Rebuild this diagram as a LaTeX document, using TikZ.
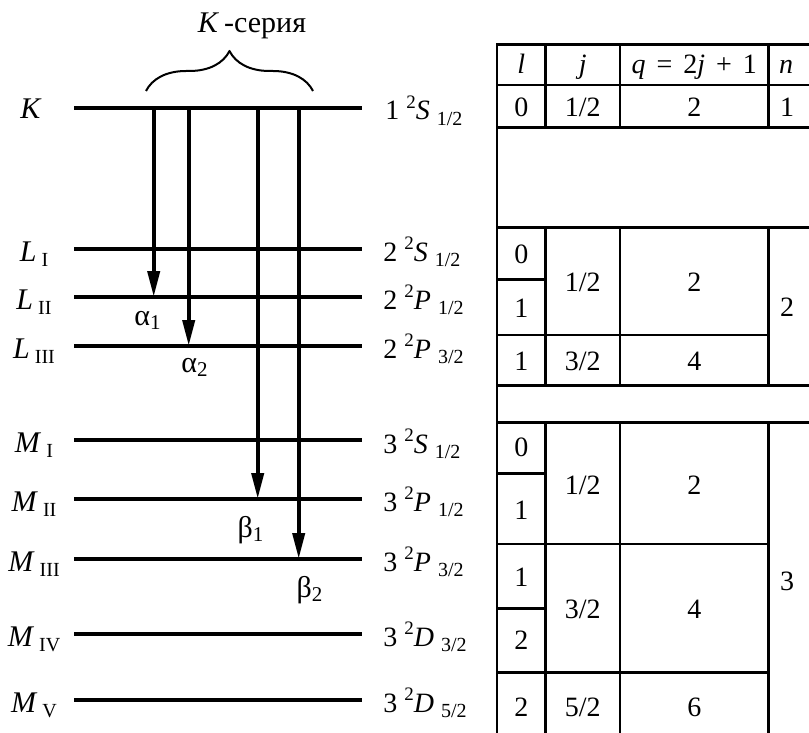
\documentclass[tikz,border=0pt]{standalone}
\usepackage{fontspec}
\setmainfont{Liberation Serif}
\usetikzlibrary{arrows.meta,decorations.pathreplacing}

% level name with roman subscript, term symbol n ^2X_j
\newcommand{\lvl}[2]{\textit{#1}\,\raisebox{-0.38ex}{\fontsize{10}{10}\selectfont #2}}
\newcommand{\trm}[3]{#1 \raisebox{0.9ex}{\fontsize{9.5}{10}\selectfont 2}\textit{#2} \raisebox{-0.45ex}{\fontsize{10}{10}\selectfont #3}}
\newcommand{\gap}{\hspace{5.5pt}}

\begin{document}
\begin{tikzpicture}[x=0.5pt, y=-0.5pt, line join=round,
	level/.style={line width=1.6pt},
	trans/.style={line width=2pt, -{Triangle[length=13pt,width=6pt]}},
	grid/.style={line width=1.3pt, line cap=rect},
	lname/.style={anchor=base, inner sep=0pt, font=\fontsize{15}{18}\selectfont},
	tname/.style={anchor=base west, inner sep=0pt, font=\fontsize{14}{17}\selectfont},
	greek/.style={anchor=base, inner sep=0pt, font=\fontsize{15}{18}\selectfont},
	cell/.style={inner sep=0pt, text height=9.5pt, text depth=0pt, font=\fontsize{14}{17}\selectfont}]
	\useasboundingbox (0,0) rectangle (809,733);

	% energy levels
	\draw[level] (74,108) coordinate (K) -- (362,108);
	\draw[level] (74,249) coordinate (LI) -- (362,249);
	\draw[level] (74,297) coordinate (LII) -- (362,297);
	\draw[level] (74,346) coordinate (LIII) -- (362,346);
	\draw[level] (74,440) coordinate (MI) -- (362,440);
	\draw[level] (74,499) coordinate (MII) -- (362,499);
	\draw[level] (74,559) coordinate (MIII) -- (362,559);
	\draw[level] (74,634) coordinate (MIV) -- (362,634);
	\draw[level] (74,700) coordinate (MV) -- (362,700);

	\node[lname] (Klab) at (31,119) {\textit{K}};
	\node[lname] (LIlab) at (34,261) {\lvl{L}{I}};
	\node[lname] (LIIlab) at (34,309) {\lvl{L}{II}};
	\node[lname] (LIIIlab) at (34,358) {\lvl{L}{III}};
	\node[lname] (MIlab) at (34,452) {\lvl{M}{I}};
	\node[lname] (MIIlab) at (34,511) {\lvl{M}{II}};
	\node[lname] (MIIIlab) at (34,571) {\lvl{M}{III}};
	\node[lname] (MIVlab) at (34,646) {\lvl{M}{IV}};
	\node[lname] (MVlab) at (34,712) {\lvl{M}{V}};

	\node[tname] (Ktrm) at (385,120) {\trm{1}{S}{1/2}};
	\node[tname] (LItrm) at (383,261) {\trm{2}{S}{1/2}};
	\node[tname] (LIItrm) at (383,309) {\trm{2}{P}{1/2}};
	\node[tname] (LIIItrm) at (383,358) {\trm{2}{P}{3/2}};
	\node[tname] (MItrm) at (383,453) {\trm{3}{S}{1/2}};
	\node[tname] (MIItrm) at (383,511) {\trm{3}{P}{1/2}};
	\node[tname] (MIIItrm) at (383,571) {\trm{3}{P}{3/2}};
	\node[tname] (MIVtrm) at (383,646) {\trm{3}{D}{3/2}};
	\node[tname] (MVtrm) at (383,712) {\trm{3}{D}{5/2}};

	% K series transitions
	\coordinate (a1) at (153.7,0);
	\coordinate (a2) at (188.7,0);
	\coordinate (b1) at (257.7,0);
	\coordinate (b2) at (298.7,0);
	\draw[trans] (K -| a1) -- (LII -| a1);
	\draw[trans] (K -| a2) -- (LIII -| a2);
	\draw[trans] (K -| b1) -- (MII -| b1);
	\draw[trans] (K -| b2) -- (MIII -| b2);
	\node[greek] (al1) at (148,325) {α\textsubscript{1}};
	\node[greek] (al2) at (195,372) {α\textsubscript{2}};
	\node[greek] (be1) at (251,537) {β\textsubscript{1}};
	\node[greek] (be2) at (310,597) {β\textsubscript{2}};

	\draw[line width=1pt, decorate, decoration={brace, amplitude=20pt}] (146,91) -- (313,91);
	\node[greek] (series) at (252,33) {\textit{K}\,-серия};

	% table
	\draw[grid] (497,733) -- (497,44.7);
	\foreach \y in {44.7,85,127.7,227.7,385.7,422.3}
		\draw[grid] (497,\y) -- (809,\y);
	\foreach \y in {279.3,473.3,608.3}
		\draw[grid] (497,\y) -- (545.7,\y);
	\foreach \y in {335,544,672.7}
		\draw[grid] (497,\y) -- (768.7,\y);
	\foreach \x in {545.7,620,768.7} {
		\draw[grid] (\x,44.7) -- (\x,127.7);
		\draw[grid] (\x,227.7) -- (\x,385.7);
		\draw[grid] (\x,422.3) -- (\x,733);
	}

	\node[cell] (hl) at (521.3,64) {\textit{l}};
	\node[cell] (hj) at (582.8,64) {\textit{j}};
	\node[cell] (hq) at (694.3,64) {\textit{q}\gap=\gap2\textit{j}\gap+\gap1};
	\node[cell] (hn) at (786,64) {\textit{n}};

	\node[cell] (k1) at (521.3,107) {0};
	\node[cell] (k2) at (582.8,107) {1/2};
	\node[cell] (k3) at (694.3,107) {2};
	\node[cell] (k4) at (787,107) {1};

	\node[cell] (l1) at (521.3,254) {0};
	\node[cell] (l2) at (521.3,308) {1};
	\node[cell] (l3) at (582.8,282) {1/2};
	\node[cell] (l4) at (694.3,282) {2};
	\node[cell] (l5) at (521.3,361) {1};
	\node[cell] (l6) at (582.8,361) {3/2};
	\node[cell] (l7) at (694.3,361) {4};
	\node[cell] (l8) at (787,307) {2};

	\node[cell] (m1) at (521.3,447) {0};
	\node[cell] (m2) at (521.3,510) {1};
	\node[cell] (m3) at (582.8,485) {1/2};
	\node[cell] (m4) at (694.3,485) {2};
	\node[cell] (m5) at (521.3,577) {1};
	\node[cell] (m6) at (521.3,640) {2};
	\node[cell] (m7) at (582.8,609) {3/2};
	\node[cell] (m8) at (694.3,609) {4};
	\node[cell] (m9) at (521.3,707) {2};
	\node[cell] (m10) at (582.8,707) {5/2};
	\node[cell] (m11) at (694.3,707) {6};
	\node[cell] (m12) at (787,581) {3};
\end{tikzpicture}
\end{document}
